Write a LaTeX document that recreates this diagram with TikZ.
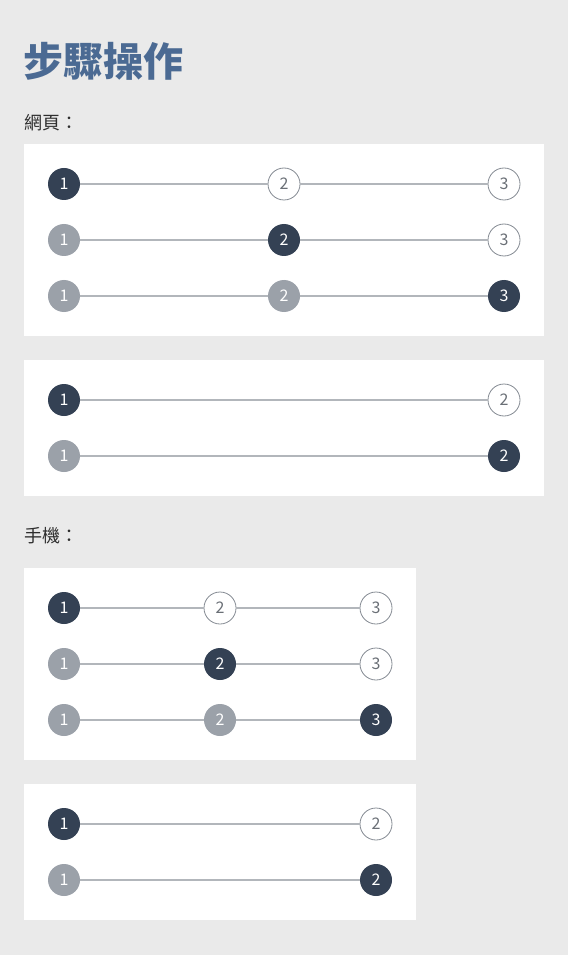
\documentclass[tikz,border=0pt]{standalone}
\usepackage{fontspec}
\setmainfont{Noto Sans CJK TC}
\definecolor{bgc}{HTML}{EAEAEA}
\definecolor{darkc}{HTML}{344154}
\definecolor{grayc}{HTML}{9BA1A9}
\definecolor{linec}{HTML}{B2B6BB}
\definecolor{ringc}{HTML}{858B93}
\definecolor{titlec}{HTML}{4B6A93}
\definecolor{labelc}{HTML}{2E2E2E}
\tikzset{
  base/.style={circle,minimum size=24pt,inner sep=0pt,font=\fontsize{12pt}{12pt}\selectfont},
  active/.style={base,fill=darkc,text=white},
  done/.style={base,fill=grayc,text=white},
  todo/.style={base,fill=white,draw=ringc,line width=0.6pt,text=ringc!80!black},
  conn/.style={draw=linec,line width=1.5pt},
  panel/.style={fill=white,draw=none},
  sect/.style={anchor=west,text=labelc,font=\fontsize{13.5pt}{13.5pt}\selectfont,inner sep=0pt}
}
\begin{document}
\begin{tikzpicture}[x=0.75pt,y=-0.75pt]
\fill[bgc] (0,0) rectangle (568,955);
\useasboundingbox (0,0) rectangle (568,955);
\node[anchor=west,inner sep=0pt,text=titlec,font=\fontsize{30pt}{30pt}\selectfont\bfseries] (title) at (23,61) {步驟操作};
\node[sect] (web) at (24,123) {網頁：};
\node[sect] (mob) at (24,536) {手機：};
% panels
\fill[panel] (24,144) rectangle (544,336);
\fill[panel] (24,360) rectangle (544,496);
\fill[panel] (24,568) rectangle (416,760);
\fill[panel] (24,784) rectangle (416,920);
% panel 1
\node[active] (a1) at (64,184) {1};
\node[todo] (a2) at (284,184) {2};
\node[todo] (a3) at (504,184) {3};
\node[done] (b1) at (64,240) {1};
\node[active] (b2) at (284,240) {2};
\node[todo] (b3) at (504,240) {3};
\node[done] (c1) at (64,296) {1};
\node[done] (c2) at (284,296) {2};
\node[active] (c3) at (504,296) {3};
\draw[conn] (a1) -- (a2); \draw[conn] (a2) -- (a3);
\draw[conn] (b1) -- (b2); \draw[conn] (b2) -- (b3);
\draw[conn] (c1) -- (c2); \draw[conn] (c2) -- (c3);
% panel 2
\node[active] (d1) at (64,400) {1};
\node[todo] (d2) at (504,400) {2};
\node[done] (e1) at (64,456) {1};
\node[active] (e2) at (504,456) {2};
\draw[conn] (d1) -- (d2);
\draw[conn] (e1) -- (e2);
% panel 3
\node[active] (f1) at (64,608) {1};
\node[todo] (f2) at (220,608) {2};
\node[todo] (f3) at (376,608) {3};
\node[done] (g1) at (64,664) {1};
\node[active] (g2) at (220,664) {2};
\node[todo] (g3) at (376,664) {3};
\node[done] (h1) at (64,720) {1};
\node[done] (h2) at (220,720) {2};
\node[active] (h3) at (376,720) {3};
\draw[conn] (f1) -- (f2); \draw[conn] (f2) -- (f3);
\draw[conn] (g1) -- (g2); \draw[conn] (g2) -- (g3);
\draw[conn] (h1) -- (h2); \draw[conn] (h2) -- (h3);
% panel 4
\node[active] (i1) at (64,824) {1};
\node[todo] (i2) at (376,824) {2};
\node[done] (j1) at (64,880) {1};
\node[active] (j2) at (376,880) {2};
\draw[conn] (i1) -- (i2);
\draw[conn] (j1) -- (j2);
\end{tikzpicture}
\end{document}
